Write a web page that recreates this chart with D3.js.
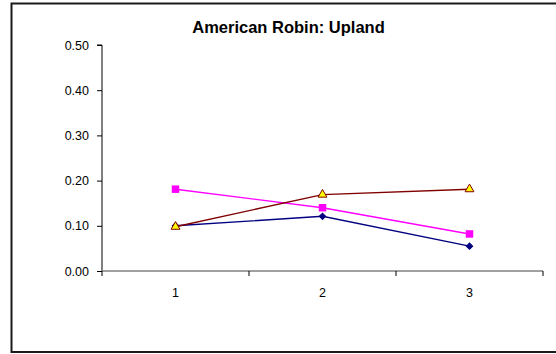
<!DOCTYPE html>
<html>
<head>
<meta charset="utf-8">
<script src="https://cdn.jsdelivr.net/npm/d3@7"></script>
<style>
  html, body { margin: 0; padding: 0; background: #fff; }
  svg { display: block; font-family: Arial, "Liberation Sans", sans-serif; }
</style>
</head>
<body>
<svg id="chart" width="556" height="354"></svg>
<script>
// Chart data
const categories = ["1", "2", "3"];
const seriesA = [0.100, 0.121, 0.055];   // navy diamonds
const seriesB = [0.181, 0.140, 0.082];   // magenta squares
const seriesC = [0.098, 0.169, 0.181];   // dark red line, yellow triangles
const yTicks = [0, 0.1, 0.2, 0.3, 0.4, 0.5];
const title = "American Robin: Upland";

const svg = d3.select("#chart");
const W = 556, H = 354;

// Outer frame
svg.append("rect")
  .attr("x", 11.5).attr("y", 3.5)
  .attr("width", W).attr("height", 348.5)
  .attr("fill", "#fff").attr("stroke", "#1a1a1a").attr("stroke-width", 2);

const plot = { left: 102, right: 543, top: 45, bottom: 271 };

const x = d3.scaleBand().domain(categories).range([plot.left, plot.right]);
const y = d3.scaleLinear().domain([0, 0.5]).range([plot.bottom, plot.top]);

// Title
svg.append("text")
  .attr("x", 288.5).attr("y", 32.5)
  .attr("text-anchor", "middle")
  .attr("font-size", 16.5).attr("font-weight", "bold")
  .attr("fill", "#000")
  .text(title);

// Y axis
const yAxis = d3.axisLeft(y).tickValues(yTicks).tickSize(5).tickPadding(8)
  .tickFormat(d3.format(".2f"));
const gy = svg.append("g").attr("transform", `translate(${plot.left},0)`).call(yAxis);
gy.select(".domain").attr("stroke", "#000").attr("d", `M-5,${plot.top}H0V${plot.bottom}`);
gy.selectAll(".tick line").attr("stroke", "#000");
gy.selectAll("text").attr("font-size", 12.5).attr("fill", "#000")
  .attr("font-family", "Arial, 'Liberation Sans', sans-serif");

// X axis: ticks at band boundaries, labels at band centres
const gx = svg.append("g").attr("transform", `translate(0,${plot.bottom})`);
gx.append("line")
  .attr("x1", plot.left).attr("x2", plot.right)
  .attr("stroke", "#808080").attr("stroke-width", 1.5);
const bounds = categories.map(c => x(c)).concat([x(categories[categories.length - 1]) + x.bandwidth()]);
gx.selectAll("line.tk").data(bounds).join("line").attr("class", "tk")
  .attr("x1", d => d).attr("x2", d => d).attr("y1", 0).attr("y2", 5)
  .attr("stroke", "#000");
gx.selectAll("text").data(categories).join("text")
  .attr("x", d => x(d) + x.bandwidth() / 2)
  .attr("y", 25.5)
  .attr("text-anchor", "middle")
  .attr("font-size", 12.5).attr("fill", "#000")
  .text(d => d);

const cx = (d, i) => x(categories[i]) + x.bandwidth() / 2;
const line = d3.line().x((d, i) => cx(d, i)).y(d => y(d));

function drawSeries(vals, color, symbolType, size, fill, stroke, rot) {
  const g = svg.append("g");
  g.append("path").datum(vals)
    .attr("d", line).attr("fill", "none")
    .attr("stroke", color).attr("stroke-width", 1.4);
  g.selectAll("path.m").data(vals).join("path").attr("class", "m")
    .attr("transform", (d, i) => `translate(${cx(d, i)},${y(d)}) rotate(${rot || 0})`)
    .attr("d", d3.symbol().type(symbolType).size(size))
    .attr("fill", fill).attr("stroke", stroke).attr("stroke-width", stroke === "none" ? 0 : 1);
}

drawSeries(seriesA, "#000080", d3.symbolSquare, 20, "#000080", "#000080", 45);
drawSeries(seriesB, "#FF00FF", d3.symbolSquare, 56, "#FF00FF", "none");
drawSeries(seriesC, "#800000", d3.symbolTriangle, 34, "#FFFF00", "#800000");
</script>
</body>
</html>
